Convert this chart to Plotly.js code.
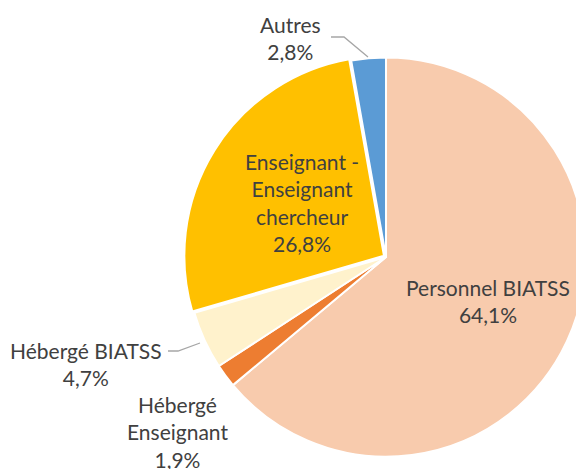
<!DOCTYPE html>
<html><head><meta charset="utf-8">
<script src="https://cdn.plot.ly/plotly-3.0.1.min.js"></script>
<style>html,body{margin:0;padding:0;overflow:hidden;background:#fff;width:576px;height:469px}</style>
</head><body><div id="chart" style="width:600px;height:469px"></div>
<script>
const categories = ["Personnel BIATSS", "Hébergé Enseignant", "Hébergé BIATSS", "Enseignant - Enseignant chercheur", "Autres"];
const labelLines = [["Personnel BIATSS"], ["Hébergé", "Enseignant"], ["Hébergé BIATSS"], ["Enseignant -", "Enseignant", "chercheur"], ["Autres"]];
const values = [64.1, 1.9, 4.7, 26.8, 2.8];
const valueLabels = ["64,1%", "1,9%", "4,7%", "26,8%", "2,8%"];
const colors = ["#F8CBAD", "#ED7D31", "#FFF2CC", "#FFC000", "#5B9BD5"];

const W = 600, H = 469;
const px = (x, y) => [x / W, 1 - y / H];
// label block centres (pixels)
const labelPos = [[488, 301], [177, 432], [86, 364], [302, 203], [290, 38]];
const font = {family: "Lato, 'Open Sans', sans-serif", size: 21, color: "#404040"};

const annotations = categories.map((c, i) => {
  const p = px(labelPos[i][0], labelPos[i][1]);
  return {x: p[0], y: p[1], xref: "paper", yref: "paper", showarrow: false,
    text: labelLines[i].concat([valueLabels[i]]).join("<br>"), font: font,
    align: "center", xanchor: "center", yanchor: "middle"};
});

function path(pts) {
  return pts.map((p, i) => (i ? "L" : "M") + (p[0] / W) + "," + (1 - p[1] / H)).join(" ");
}
const shapes = [
  {type: "path", xref: "paper", yref: "paper", path: path([[331, 37], [344, 37], [368, 57]]), line: {color: "#A6A6A6", width: 1.3}},
  {type: "path", xref: "paper", yref: "paper", path: path([[168, 351], [178, 351], [200, 343]]), line: {color: "#A6A6A6", width: 1.3}}
];

const data = [{
  type: "pie", labels: categories, values: values, sort: false, direction: "clockwise", rotation: 0,
  marker: {colors: colors, line: {color: "#FFFFFF", width: 2}},
  pull: [0, 0, 0, 0.012, 0],
  textinfo: "none", hoverinfo: "none",
  domain: {x: [184 / W, 588 / W], y: [10 / H, 414 / H]}
}];
const layout = {width: W, height: H, margin: {l: 0, r: 0, t: 0, b: 0}, showlegend: false,
  paper_bgcolor: "#fff", annotations: annotations, shapes: shapes};
Plotly.newPlot("chart", data, layout, {displayModeBar: false, staticPlot: true});
</script></body></html>
